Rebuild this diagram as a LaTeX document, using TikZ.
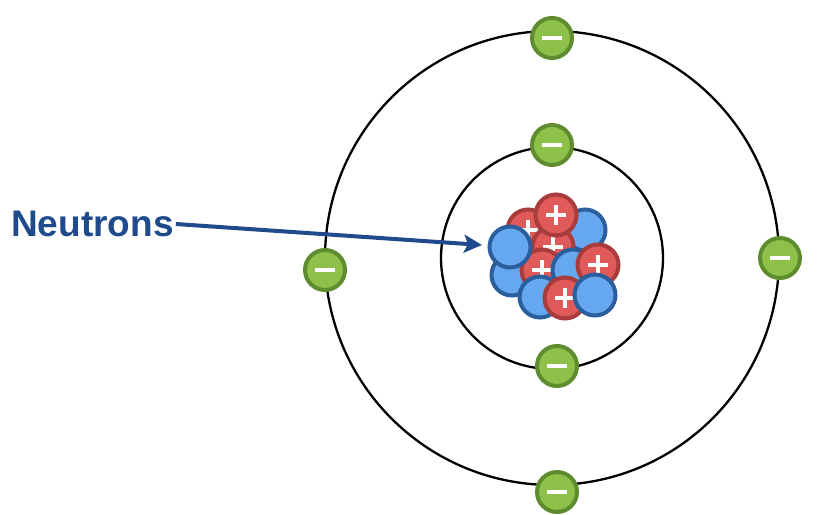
\documentclass[tikz,border=0pt]{standalone}
\usepackage{fontspec}
\setmainfont{Liberation Sans}
\usetikzlibrary{arrows.meta}
\definecolor{eg}{HTML}{8DC14A}\definecolor{egd}{HTML}{5E8C2E}
\definecolor{pr}{HTML}{E05A5A}\definecolor{prd}{HTML}{A83C3C}
\definecolor{nb}{HTML}{66A8F0}\definecolor{nbd}{HTML}{2B5E9C}
\definecolor{lab}{HTML}{1F4A8C}
\begin{document}
\begin{tikzpicture}[x=1pt,y=-1pt,
 elec/.style={circle,fill=eg,draw=egd,line width=4pt,minimum size=40pt,inner sep=0pt,
   path picture={\draw[white,line width=3.5pt] ([xshift=-10pt]path picture bounding box.center)--([xshift=10pt]path picture bounding box.center);}},
 prot/.style={circle,fill=pr,draw=prd,line width=4pt,minimum size=41pt,inner sep=0pt,
   path picture={\draw[white,line width=3.5pt] ([xshift=-10pt]path picture bounding box.center)--([xshift=10pt]path picture bounding box.center) ([yshift=-10pt]path picture bounding box.center)--([yshift=10pt]path picture bounding box.center);}},
 neut/.style={circle,fill=nb,draw=nbd,line width=4pt,minimum size=41pt,inner sep=0pt},
 orbit/.style={draw=black,line width=2.3pt}]
\useasboundingbox (0,0) rectangle (826,514);
\coordinate (c) at (552,258);
\draw[orbit] (c) circle (227);
\draw[orbit] (c) circle (111);
\node[prot] (p1) at (528,230) {};
\node[neut] (n1) at (585,230) {};
\node[prot] (p2) at (553,247) {};
\node[neut] (n2) at (512,275) {};
\node[prot] (p3) at (542,270) {};
\node[neut] (n3) at (573,270) {};
\node[prot] (p4) at (556,215) {};
\node[neut] (n4) at (510,247) {};
\node[prot] (p5) at (598,265) {};
\node[neut] (n5) at (540,297) {};
\node[prot] (p6) at (565,298) {};
\node[neut] (n6) at (595,295) {};
\node[elec] (e1) at (552,38) {};
\node[elec] (e2) at (325,270) {};
\node[elec] (e3) at (780,258) {};
\node[elec] (e4) at (557,492) {};
\node[elec] (e5) at (552,145) {};
\node[elec] (e6) at (557,366) {};
\node[text=lab,font=\bfseries\fontsize{37}{37}\selectfont,inner sep=2pt,anchor=west] (lbl) at (9,224) {Neutrons};
\draw[lab,line width=4pt,-{Stealth[length=18pt,width=18pt,inset=4pt]}] (lbl.east) -- (482,245);
\end{tikzpicture}
\end{document}
